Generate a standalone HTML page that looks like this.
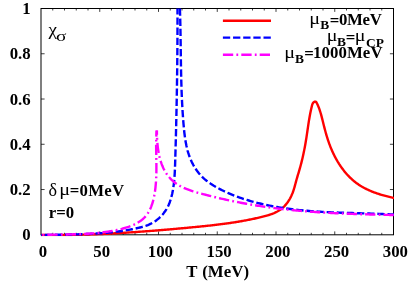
<!DOCTYPE html>
<html><head><meta charset="utf-8"><title>chart</title>
<style>html,body{margin:0;padding:0;background:#fff;overflow:hidden}svg{display:block;will-change:transform}text{font-family:"Liberation Serif",serif;font-weight:bold;fill:#000}.g{font-weight:normal}</style></head><body>
<svg width="409" height="286" viewBox="0 0 409 286">
<rect width="409" height="286" fill="#fff"/>
<g stroke="#000" stroke-width="1" fill="none">
<rect x="41.00" y="8.50" width="352.50" height="226.30"/>
<path d="M52.75,234.80v-2.0 M52.75,8.50v2.0 M64.50,234.80v-2.0 M64.50,8.50v2.0 M76.25,234.80v-2.0 M76.25,8.50v2.0 M88.00,234.80v-2.0 M88.00,8.50v2.0 M99.75,234.80v-3.4 M99.75,8.50v3.4 M111.50,234.80v-2.0 M111.50,8.50v2.0 M123.25,234.80v-2.0 M123.25,8.50v2.0 M135.00,234.80v-2.0 M135.00,8.50v2.0 M146.75,234.80v-2.0 M146.75,8.50v2.0 M158.50,234.80v-3.4 M158.50,8.50v3.4 M170.25,234.80v-2.0 M170.25,8.50v2.0 M182.00,234.80v-2.0 M182.00,8.50v2.0 M193.75,234.80v-2.0 M193.75,8.50v2.0 M205.50,234.80v-2.0 M205.50,8.50v2.0 M217.25,234.80v-3.4 M217.25,8.50v3.4 M229.00,234.80v-2.0 M229.00,8.50v2.0 M240.75,234.80v-2.0 M240.75,8.50v2.0 M252.50,234.80v-2.0 M252.50,8.50v2.0 M264.25,234.80v-2.0 M264.25,8.50v2.0 M276.00,234.80v-3.4 M276.00,8.50v3.4 M287.75,234.80v-2.0 M287.75,8.50v2.0 M299.50,234.80v-2.0 M299.50,8.50v2.0 M311.25,234.80v-2.0 M311.25,8.50v2.0 M323.00,234.80v-2.0 M323.00,8.50v2.0 M334.75,234.80v-3.4 M334.75,8.50v3.4 M346.50,234.80v-2.0 M346.50,8.50v2.0 M358.25,234.80v-2.0 M358.25,8.50v2.0 M370.00,234.80v-2.0 M370.00,8.50v2.0 M381.75,234.80v-2.0 M381.75,8.50v2.0 M41.00,189.54h3.6 M393.50,189.54h-3.6 M41.00,144.28h3.6 M393.50,144.28h-3.6 M41.00,99.02h3.6 M393.50,99.02h-3.6 M41.00,53.76h3.6 M393.50,53.76h-3.6 " stroke-width="0.75"/>
</g>
<defs><clipPath id="c"><rect x="40.50" y="8.00" width="353.50" height="228.30"/></clipPath></defs>
<g clip-path="url(#c)" fill="none" stroke-width="2.4" stroke-linejoin="round">
<path d="M41.00,235.00 L42.00,235.01 L43.00,235.03 L44.00,235.04 L45.00,235.05 L45.99,235.06 L46.99,235.07 L47.99,235.07 L48.99,235.08 L49.99,235.09 L50.99,235.09 L51.99,235.09 L52.99,235.10 L53.98,235.10 L54.98,235.10 L55.98,235.09 L56.98,235.09 L57.98,235.09 L58.98,235.08 L59.98,235.08 L60.98,235.07 L61.98,235.06 L62.98,235.06 L63.97,235.05 L64.97,235.04 L65.97,235.02 L66.97,235.01 L67.97,235.00 L68.97,234.98 L69.97,234.97 L70.97,234.95 L71.97,234.93 L72.97,234.91 L73.97,234.89 L74.96,234.87 L75.96,234.85 L76.96,234.83 L77.96,234.81 L78.96,234.78 L79.96,234.76 L80.96,234.73 L81.96,234.70 L82.96,234.67 L83.96,234.65 L84.95,234.62 L85.95,234.58 L86.95,234.55 L87.95,234.52 L88.95,234.49 L89.95,234.45 L90.95,234.42 L91.95,234.38 L92.95,234.34 L93.95,234.31 L94.94,234.27 L95.94,234.23 L96.94,234.19 L97.94,234.15 L98.94,234.10 L99.94,234.06 L100.94,234.02 L101.94,233.97 L102.93,233.93 L103.93,233.88 L104.93,233.84 L105.93,233.79 L106.93,233.74 L107.93,233.69 L108.93,233.64 L109.92,233.59 L110.92,233.54 L111.92,233.49 L112.92,233.43 L113.92,233.38 L114.92,233.32 L115.92,233.27 L116.91,233.21 L117.91,233.16 L118.91,233.10 L119.91,233.04 L120.91,232.98 L121.90,232.92 L122.90,232.86 L123.90,232.80 L124.90,232.74 L125.90,232.68 L126.89,232.62 L127.89,232.55 L128.89,232.49 L129.89,232.42 L130.89,232.36 L131.88,232.29 L132.88,232.22 L133.88,232.16 L134.88,232.09 L135.87,232.02 L136.87,231.95 L137.87,231.88 L138.87,231.81 L139.86,231.74 L140.86,231.67 L141.86,231.60 L142.86,231.52 L143.85,231.45 L144.85,231.38 L145.85,231.30 L146.84,231.23 L147.84,231.15 L148.84,231.08 L149.83,231.00 L150.83,230.92 L151.83,230.84 L152.82,230.77 L153.82,230.69 L154.82,230.61 L155.81,230.53 L156.81,230.45 L157.81,230.37 L158.80,230.29 L159.80,230.20 L160.79,230.12 L161.79,230.04 L162.79,229.96 L163.78,229.87 L164.78,229.79 L165.77,229.70 L166.77,229.62 L167.77,229.53 L168.76,229.45 L169.76,229.36 L170.75,229.28 L171.75,229.19 L172.74,229.10 L173.74,229.01 L174.73,228.92 L175.73,228.84 L176.72,228.75 L177.72,228.66 L178.71,228.57 L179.71,228.48 L180.70,228.39 L181.70,228.30 L182.69,228.21 L183.68,228.11 L184.68,228.02 L185.67,227.93 L186.67,227.84 L187.66,227.74 L188.66,227.65 L189.65,227.56 L190.64,227.46 L191.64,227.37 L192.63,227.28 L193.62,227.18 L194.62,227.09 L195.61,226.99 L196.60,226.89 L197.60,226.80 L198.59,226.70 L199.58,226.60 L200.57,226.50 L201.57,226.40 L202.56,226.30 L203.55,226.20 L204.54,226.09 L205.54,225.99 L206.53,225.89 L207.52,225.78 L208.51,225.67 L209.50,225.57 L210.50,225.46 L211.49,225.35 L212.48,225.23 L213.47,225.12 L214.46,225.01 L215.45,224.89 L216.44,224.77 L217.43,224.65 L218.42,224.53 L219.41,224.41 L220.40,224.28 L221.39,224.16 L222.38,224.03 L223.37,223.90 L224.36,223.77 L225.35,223.64 L226.34,223.50 L227.33,223.36 L228.32,223.22 L229.31,223.08 L230.29,222.94 L231.28,222.79 L232.27,222.64 L233.26,222.49 L234.25,222.34 L235.23,222.19 L236.22,222.03 L237.21,221.87 L238.19,221.71 L239.18,221.54 L240.17,221.37 L241.15,221.20 L242.14,221.03 L243.13,220.85 L244.11,220.67 L245.10,220.49 L246.08,220.31 L247.07,220.12 L248.05,219.93 L249.04,219.73 L250.02,219.54 L251.01,219.34 L251.99,219.13 L252.97,218.93 L253.96,218.72 L254.94,218.50 L255.92,218.29 L256.91,218.07 L257.89,217.84 L258.87,217.62 L259.85,217.39 L260.84,217.15 L261.82,216.91 L262.80,216.67 L263.78,216.42 L264.75,216.17 L265.73,215.91 L266.70,215.64 L267.67,215.36 L268.63,215.07 L269.58,214.76 L270.53,214.45 L271.46,214.12 L272.39,213.77 L273.31,213.41 L274.22,213.03 L275.12,212.62 L276.00,212.20 L276.88,211.76 L277.73,211.30 L278.58,210.81 L279.40,210.29 L280.21,209.75 L281.01,209.19 L281.78,208.59 L282.54,207.97 L283.27,207.31 L283.99,206.63 L284.69,205.91 L285.36,205.17 L286.02,204.41 L286.65,203.62 L287.26,202.81 L287.85,201.98 L288.42,201.13 L288.97,200.27 L289.50,199.39 L290.01,198.49 L290.49,197.59 L290.95,196.68 L291.40,195.75 L291.81,194.83 L292.21,193.89 L292.59,192.96 L292.94,192.02 L293.27,191.09 L293.59,190.15 L293.89,189.21 L294.18,188.26 L294.45,187.32 L294.72,186.38 L294.98,185.43 L295.23,184.49 L295.49,183.54 L295.74,182.59 L295.99,181.64 L296.25,180.69 L296.51,179.73 L296.78,178.78 L297.06,177.82 L297.34,176.87 L297.62,175.91 L297.91,174.95 L298.20,173.99 L298.49,173.03 L298.77,172.06 L299.06,171.10 L299.35,170.13 L299.63,169.17 L299.91,168.20 L300.18,167.23 L300.45,166.26 L300.71,165.28 L300.97,164.31 L301.22,163.34 L301.47,162.36 L301.71,161.39 L301.95,160.41 L302.19,159.43 L302.42,158.45 L302.65,157.47 L302.87,156.49 L303.09,155.51 L303.31,154.53 L303.52,153.55 L303.72,152.57 L303.93,151.59 L304.12,150.61 L304.32,149.63 L304.51,148.64 L304.70,147.66 L304.88,146.68 L305.06,145.70 L305.24,144.71 L305.41,143.73 L305.58,142.75 L305.75,141.77 L305.91,140.79 L306.07,139.81 L306.23,138.83 L306.39,137.85 L306.54,136.87 L306.68,135.89 L306.83,134.91 L306.98,133.93 L307.12,132.95 L307.26,131.97 L307.40,130.99 L307.55,130.01 L307.69,129.03 L307.83,128.05 L307.97,127.07 L308.12,126.09 L308.27,125.11 L308.41,124.13 L308.56,123.14 L308.72,122.16 L308.87,121.17 L309.03,120.18 L309.20,119.19 L309.37,118.20 L309.54,117.21 L309.72,116.22 L309.90,115.22 L310.09,114.22 L310.28,113.22 L310.48,112.22 L310.69,111.22 L310.90,110.21 L311.13,109.20 L311.36,108.19 L311.60,107.18 L311.84,106.16 L312.10,105.14 L312.41,104.16 L312.84,103.25 L313.43,102.46 L314.19,101.86 L315.00,101.57 L315.72,101.70 L316.30,102.23 L316.78,103.02 L317.22,103.89 L317.64,104.78 L318.04,105.68 L318.42,106.60 L318.78,107.52 L319.13,108.45 L319.47,109.39 L319.79,110.34 L320.10,111.29 L320.40,112.25 L320.69,113.22 L320.97,114.19 L321.24,115.16 L321.50,116.14 L321.76,117.12 L322.01,118.10 L322.26,119.09 L322.50,120.07 L322.74,121.06 L322.99,122.04 L323.23,123.02 L323.47,124.00 L323.72,124.97 L323.96,125.94 L324.21,126.92 L324.46,127.88 L324.71,128.85 L324.97,129.81 L325.23,130.78 L325.49,131.73 L325.75,132.69 L326.02,133.65 L326.30,134.60 L326.58,135.55 L326.86,136.50 L327.15,137.45 L327.45,138.39 L327.75,139.33 L328.06,140.27 L328.37,141.21 L328.70,142.15 L329.03,143.08 L329.36,144.02 L329.71,144.95 L330.06,145.88 L330.42,146.81 L330.79,147.73 L331.17,148.66 L331.56,149.58 L331.96,150.50 L332.37,151.42 L332.78,152.33 L333.21,153.24 L333.64,154.15 L334.09,155.05 L334.54,155.95 L335.00,156.85 L335.47,157.74 L335.95,158.62 L336.44,159.51 L336.94,160.38 L337.45,161.25 L337.96,162.12 L338.49,162.97 L339.02,163.83 L339.57,164.67 L340.12,165.51 L340.69,166.34 L341.26,167.17 L341.84,167.98 L342.44,168.79 L343.04,169.59 L343.65,170.39 L344.27,171.17 L344.90,171.95 L345.54,172.71 L346.19,173.47 L346.85,174.22 L347.52,174.95 L348.20,175.68 L348.89,176.40 L349.58,177.10 L350.29,177.80 L351.01,178.48 L351.74,179.16 L352.48,179.82 L353.22,180.47 L353.98,181.10 L354.75,181.73 L355.53,182.34 L356.31,182.94 L357.11,183.53 L357.92,184.10 L358.74,184.66 L359.56,185.20 L360.40,185.74 L361.25,186.25 L362.10,186.76 L362.96,187.25 L363.84,187.73 L364.72,188.20 L365.60,188.66 L366.50,189.11 L367.40,189.54 L368.31,189.96 L369.22,190.37 L370.14,190.77 L371.07,191.17 L372.00,191.55 L372.94,191.92 L373.88,192.28 L374.83,192.63 L375.78,192.97 L376.73,193.30 L377.69,193.63 L378.65,193.94 L379.62,194.25 L380.58,194.55 L381.55,194.84 L382.52,195.12 L383.50,195.40 L384.47,195.67 L385.45,195.93 L386.42,196.18 L387.40,196.43 L388.38,196.68 L389.35,196.91 L390.33,197.14 L391.31,197.37 L392.28,197.59 L393.25,197.81 L394.23,198.02 L395.19,198.22 L396.16,198.43 L397.13,198.63 L398.09,198.82 L399.04,199.01 L400.00,199.20" stroke="#ff0000"/>
<path d="M177.50,8.50 L177.50,10.22 L177.50,11.94 L177.51,13.66 L177.51,15.37 L177.51,17.08 L177.51,18.79 L177.51,20.50 L177.50,22.20 L177.50,23.91 L177.50,25.61 L177.49,27.30 L177.49,29.00 L177.48,30.69 L177.48,32.38 L177.47,34.07 L177.47,35.76 L177.46,37.45 L177.45,39.13 L177.44,40.82 L177.43,42.50 L177.42,44.18 L177.41,45.85 L177.40,47.53 L177.39,49.21 L177.37,50.88 L177.36,52.55 L177.34,54.23 L177.33,55.90 L177.31,57.57 L177.30,59.24 L177.28,60.90 L177.26,62.57 L177.25,64.24 L177.23,65.90 L177.21,67.57 L177.19,69.23 L177.17,70.90 L177.15,72.56 L177.13,74.22 L177.10,75.88 L177.08,77.55 L177.06,79.21 L177.03,80.87 L177.01,82.53 L176.98,84.20 L176.96,85.86 L176.93,87.52 L176.90,89.18 L176.87,90.84 L176.85,92.51 L176.82,94.17 L176.79,95.83 L176.76,97.50 L176.73,99.16 L176.70,100.83 L176.66,102.49 L176.63,104.16 L176.60,105.83 L176.56,107.50 L176.53,109.17 L176.49,110.84 L176.46,112.51 L176.42,114.18 L176.39,115.85 L176.35,117.53 L176.31,119.20 L176.27,120.88 L176.23,122.56 L176.20,124.24 L176.16,125.92 L176.12,127.61 L176.07,129.29 L176.03,130.98 L175.99,132.67 L175.95,134.36 L175.90,136.05 L175.86,137.75 L175.82,139.44 L175.77,141.14 L175.73,142.84 L175.68,144.55 L175.63,146.25 L175.59,147.96 L175.54,149.67 L175.49,151.38 L175.44,153.10 L175.39,154.82 L175.34,156.54 L175.29,158.26 L175.24,159.99 L175.19,161.71 L175.14,163.45 L175.08,165.18 L175.02,166.91 L174.95,168.64 L174.87,170.37 L174.79,172.10 L174.69,173.82 L174.58,175.54 L174.46,177.26 L174.32,178.97 L174.17,180.67 L173.99,182.36 L173.80,184.05 L173.59,185.72 L173.35,187.38 L173.09,189.04 L172.80,190.68 L172.49,192.30 L172.15,193.92 L171.77,195.51 L171.37,197.09 L170.93,198.66 L170.45,200.20 L169.93,201.73 L169.36,203.24 L168.74,204.73 L168.06,206.19 L167.32,207.63 L166.51,209.05 L165.63,210.45 L164.69,211.81 L163.69,213.14 L162.63,214.43 L161.51,215.68 L160.34,216.88 L159.12,218.04 L157.85,219.14 L156.54,220.18 L155.19,221.16 L153.79,222.07 L152.37,222.91 L150.90,223.69 L149.41,224.39 L147.89,225.03 L146.35,225.61 L144.78,226.14 L143.19,226.63 L141.59,227.08 L139.98,227.50 L138.35,227.89 L136.72,228.26 L135.08,228.61 L133.44,228.95 L131.79,229.28 L130.14,229.59 L128.48,229.89 L126.82,230.18 L125.16,230.45 L123.50,230.72 L121.83,230.97 L120.16,231.21 L118.48,231.44 L116.80,231.66 L115.12,231.86 L113.44,232.06 L111.76,232.25 L110.07,232.42 L108.38,232.59 L106.69,232.75 L105.00,232.90 L103.31,233.04 L101.61,233.18 L99.92,233.30 L98.22,233.42 L96.52,233.53 L94.82,233.63 L93.12,233.73 L91.42,233.82 L89.72,233.91 L88.02,233.98 L86.32,234.06 L84.62,234.13 L82.92,234.19 L81.22,234.25 L79.53,234.30 L77.83,234.35 L76.13,234.39 L74.44,234.44 L72.74,234.48 L71.05,234.51 L69.36,234.55 L67.67,234.58 L65.98,234.61 L64.30,234.63 L62.61,234.66 L60.93,234.68 L59.25,234.71 L57.58,234.73 L55.90,234.75 L54.23,234.78 L52.57,234.80 L50.90,234.83 L49.24,234.85 L47.59,234.88 L45.93,234.90 L44.29,234.93 L42.64,234.97 L41.00,235.00" stroke="#0000ff" stroke-dasharray="7.3 2.85" stroke-dashoffset="1.2"/>
<path d="M179.90,8.50 L179.96,10.44 L180.03,12.38 L180.08,14.32 L180.14,16.25 L180.19,18.18 L180.24,20.10 L180.28,22.02 L180.33,23.93 L180.37,25.85 L180.40,27.76 L180.44,29.66 L180.47,31.57 L180.51,33.47 L180.54,35.37 L180.57,37.26 L180.59,39.16 L180.62,41.05 L180.65,42.94 L180.67,44.83 L180.70,46.71 L180.72,48.60 L180.75,50.48 L180.77,52.36 L180.80,54.24 L180.82,56.12 L180.85,58.00 L180.87,59.88 L180.90,61.75 L180.93,63.63 L180.96,65.51 L180.99,67.38 L181.03,69.26 L181.06,71.13 L181.10,73.01 L181.14,74.89 L181.18,76.76 L181.22,78.64 L181.27,80.52 L181.32,82.40 L181.38,84.28 L181.43,86.16 L181.49,88.05 L181.56,89.93 L181.62,91.82 L181.70,93.71 L181.77,95.60 L181.85,97.49 L181.94,99.38 L182.03,101.28 L182.12,103.18 L182.22,105.08 L182.33,106.99 L182.44,108.89 L182.56,110.81 L182.68,112.72 L182.81,114.64 L182.94,116.56 L183.08,118.48 L183.23,120.41 L183.38,122.34 L183.55,124.28 L183.72,126.22 L183.89,128.16 L184.09,130.10 L184.29,132.05 L184.52,133.99 L184.76,135.92 L185.03,137.85 L185.32,139.78 L185.64,141.69 L185.99,143.59 L186.37,145.49 L186.79,147.36 L187.24,149.23 L187.73,151.07 L188.27,152.90 L188.85,154.71 L189.48,156.50 L190.16,158.26 L190.89,160.00 L191.66,161.71 L192.49,163.39 L193.37,165.04 L194.30,166.66 L195.28,168.24 L196.30,169.78 L197.38,171.28 L198.51,172.74 L199.68,174.15 L200.91,175.51 L202.18,176.83 L203.50,178.10 L204.87,179.31 L206.28,180.48 L207.73,181.61 L209.21,182.69 L210.73,183.74 L212.29,184.75 L213.87,185.73 L215.47,186.67 L217.10,187.59 L218.75,188.48 L220.41,189.35 L222.09,190.20 L223.79,191.03 L225.50,191.84 L227.22,192.62 L228.96,193.39 L230.71,194.13 L232.47,194.85 L234.24,195.56 L236.02,196.24 L237.82,196.91 L239.62,197.56 L241.44,198.19 L243.26,198.80 L245.10,199.39 L246.94,199.96 L248.79,200.52 L250.64,201.06 L252.50,201.59 L254.37,202.09 L256.24,202.58 L258.12,203.06 L260.00,203.52 L261.89,203.96 L263.78,204.39 L265.67,204.81 L267.56,205.21 L269.46,205.59 L271.35,205.97 L273.25,206.32 L275.15,206.67 L277.05,207.00 L278.94,207.32 L280.84,207.63 L282.73,207.93 L284.62,208.21 L286.51,208.48 L288.40,208.74 L290.28,208.99 L292.17,209.23 L294.05,209.46 L295.93,209.68 L297.81,209.89 L299.69,210.09 L301.57,210.28 L303.45,210.46 L305.32,210.64 L307.20,210.80 L309.07,210.96 L310.95,211.11 L312.82,211.25 L314.69,211.39 L316.57,211.52 L318.44,211.64 L320.31,211.75 L322.19,211.86 L324.06,211.97 L325.93,212.07 L327.80,212.16 L329.68,212.25 L331.55,212.34 L333.42,212.42 L335.30,212.49 L337.17,212.57 L339.05,212.64 L340.93,212.70 L342.80,212.77 L344.68,212.83 L346.56,212.89 L348.44,212.95 L350.33,213.00 L352.21,213.06 L354.09,213.11 L355.98,213.17 L357.87,213.22 L359.76,213.27 L361.65,213.33 L363.54,213.38 L365.44,213.44 L367.34,213.49 L369.24,213.55 L371.14,213.61 L373.04,213.67 L374.95,213.73 L376.86,213.80 L378.77,213.87 L380.69,213.94 L382.60,214.02 L384.52,214.09 L386.45,214.18 L388.37,214.27 L390.30,214.36 L392.24,214.46 L394.17,214.56 L396.11,214.67 L398.05,214.78 L400.00,214.90" stroke="#0000ff" stroke-dasharray="7.3 2.85"/>
<path d="M156.60,130.50 L156.53,131.50 L156.47,132.51 L156.42,133.51 L156.37,134.51 L156.32,135.50 L156.28,136.50 L156.25,137.49 L156.22,138.48 L156.20,139.47 L156.18,140.46 L156.17,141.45 L156.16,142.43 L156.15,143.42 L156.14,144.40 L156.14,145.38 L156.15,146.36 L156.15,147.34 L156.16,148.32 L156.17,149.30 L156.18,150.28 L156.19,151.25 L156.21,152.23 L156.22,153.21 L156.24,154.18 L156.25,155.16 L156.27,156.13 L156.29,157.11 L156.31,158.08 L156.32,159.06 L156.34,160.03 L156.35,161.01 L156.37,161.99 L156.38,162.96 L156.39,163.94 L156.40,164.92 L156.40,165.90 L156.40,166.87 L156.40,167.85 L156.40,168.84 L156.40,169.82 L156.39,170.80 L156.37,171.78 L156.36,172.77 L156.33,173.76 L156.31,174.74 L156.28,175.73 L156.24,176.72 L156.20,177.72 L156.15,178.71 L156.10,179.71 L156.04,180.71 L155.97,181.71 L155.90,182.71 L155.82,183.71 L155.73,184.72 L155.64,185.73 L155.54,186.74 L155.43,187.76 L155.31,188.77 L155.18,189.79 L155.04,190.81 L154.90,191.83 L154.74,192.85 L154.58,193.87 L154.40,194.89 L154.21,195.90 L154.01,196.91 L153.79,197.91 L153.56,198.91 L153.32,199.90 L153.07,200.89 L152.80,201.86 L152.51,202.83 L152.21,203.79 L151.89,204.74 L151.56,205.67 L151.21,206.60 L150.84,207.51 L150.45,208.40 L150.05,209.28 L149.62,210.15 L149.18,211.00 L148.71,211.83 L148.23,212.64 L147.72,213.43 L147.19,214.21 L146.64,214.96 L146.07,215.69 L145.47,216.40 L144.85,217.08 L144.21,217.75 L143.55,218.39 L142.86,219.01 L142.16,219.61 L141.43,220.19 L140.69,220.75 L139.93,221.29 L139.15,221.81 L138.35,222.31 L137.54,222.80 L136.71,223.26 L135.87,223.72 L135.02,224.15 L134.15,224.57 L133.27,224.97 L132.37,225.36 L131.47,225.73 L130.55,226.09 L129.63,226.44 L128.70,226.77 L127.75,227.09 L126.81,227.40 L125.85,227.70 L124.89,227.99 L123.92,228.26 L122.95,228.53 L121.97,228.79 L120.99,229.04 L120.01,229.27 L119.03,229.51 L118.04,229.73 L117.06,229.95 L116.07,230.16 L115.09,230.36 L114.10,230.56 L113.11,230.74 L112.12,230.93 L111.13,231.10 L110.15,231.27 L109.16,231.44 L108.17,231.60 L107.18,231.75 L106.18,231.90 L105.19,232.04 L104.20,232.17 L103.21,232.30 L102.22,232.43 L101.23,232.55 L100.23,232.66 L99.24,232.77 L98.25,232.87 L97.25,232.97 L96.26,233.07 L95.27,233.16 L94.27,233.25 L93.28,233.33 L92.29,233.41 L91.29,233.48 L90.30,233.56 L89.30,233.62 L88.31,233.69 L87.32,233.75 L86.32,233.80 L85.33,233.86 L84.33,233.91 L83.34,233.96 L82.35,234.00 L81.35,234.04 L80.36,234.08 L79.37,234.12 L78.37,234.16 L77.38,234.19 L76.39,234.22 L75.40,234.25 L74.41,234.28 L73.41,234.30 L72.42,234.33 L71.43,234.35 L70.44,234.37 L69.45,234.39 L68.46,234.41 L67.47,234.43 L66.48,234.44 L65.49,234.46 L64.51,234.48 L63.52,234.49 L62.53,234.51 L61.55,234.52 L60.56,234.54 L59.58,234.55 L58.59,234.56 L57.61,234.58 L56.62,234.60 L55.64,234.61 L54.66,234.63 L53.68,234.65 L52.70,234.66 L51.72,234.68 L50.74,234.70 L49.76,234.73 L48.78,234.75 L47.81,234.77 L46.83,234.80 L45.86,234.83 L44.89,234.86 L43.91,234.89 L42.94,234.92 L41.97,234.96 L41.00,235.00" stroke="#ff00ff" stroke-dasharray="10.3 3.1 1.8 3.2" stroke-dashoffset="4.2"/>
<path d="M156.90,130.50 L156.90,131.82 L156.92,133.17 L156.94,134.55 L156.98,135.94 L157.03,137.35 L157.09,138.78 L157.17,140.22 L157.27,141.68 L157.39,143.14 L157.52,144.61 L157.68,146.09 L157.86,147.58 L158.06,149.07 L158.28,150.55 L158.53,152.04 L158.80,153.52 L159.10,155.00 L159.42,156.46 L159.78,157.92 L160.16,159.37 L160.58,160.80 L161.03,162.22 L161.51,163.62 L162.02,164.99 L162.57,166.35 L163.15,167.69 L163.78,168.99 L164.44,170.27 L165.14,171.52 L165.88,172.74 L166.66,173.93 L167.48,175.08 L168.34,176.19 L169.24,177.27 L170.18,178.31 L171.15,179.32 L172.16,180.29 L173.20,181.22 L174.26,182.11 L175.36,182.97 L176.49,183.78 L177.64,184.56 L178.82,185.30 L180.03,186.00 L181.25,186.66 L182.50,187.28 L183.76,187.88 L185.05,188.44 L186.35,188.98 L187.67,189.49 L189.00,189.98 L190.34,190.45 L191.69,190.90 L193.06,191.33 L194.43,191.74 L195.81,192.15 L197.19,192.54 L198.58,192.93 L199.97,193.31 L201.36,193.68 L202.76,194.05 L204.15,194.42 L205.55,194.78 L206.94,195.15 L208.34,195.50 L209.74,195.86 L211.14,196.21 L212.54,196.55 L213.94,196.90 L215.34,197.23 L216.75,197.57 L218.15,197.90 L219.55,198.23 L220.96,198.55 L222.37,198.87 L223.77,199.19 L225.18,199.51 L226.59,199.82 L228.00,200.12 L229.41,200.42 L230.83,200.72 L232.24,201.02 L233.65,201.31 L235.07,201.60 L236.48,201.88 L237.90,202.16 L239.31,202.44 L240.73,202.71 L242.15,202.98 L243.57,203.25 L244.99,203.51 L246.41,203.77 L247.83,204.02 L249.25,204.27 L250.67,204.52 L252.10,204.76 L253.52,205.00 L254.94,205.24 L256.37,205.47 L257.79,205.70 L259.22,205.93 L260.65,206.15 L262.07,206.37 L263.50,206.58 L264.93,206.79 L266.36,207.00 L267.79,207.20 L269.22,207.40 L270.65,207.59 L272.08,207.79 L273.51,207.97 L274.94,208.16 L276.37,208.34 L277.81,208.52 L279.24,208.69 L280.67,208.86 L282.11,209.03 L283.54,209.19 L284.98,209.35 L286.41,209.51 L287.85,209.66 L289.28,209.81 L290.72,209.96 L292.15,210.10 L293.59,210.24 L295.03,210.38 L296.47,210.51 L297.90,210.65 L299.34,210.77 L300.78,210.90 L302.22,211.02 L303.66,211.14 L305.10,211.26 L306.54,211.38 L307.97,211.49 L309.41,211.60 L310.85,211.70 L312.29,211.81 L313.73,211.91 L315.17,212.01 L316.61,212.11 L318.06,212.20 L319.50,212.30 L320.94,212.39 L322.38,212.48 L323.82,212.56 L325.26,212.65 L326.70,212.73 L328.14,212.81 L329.58,212.88 L331.02,212.96 L332.46,213.03 L333.91,213.11 L335.35,213.18 L336.79,213.25 L338.23,213.31 L339.67,213.38 L341.11,213.44 L342.55,213.50 L343.99,213.56 L345.43,213.62 L346.87,213.68 L348.31,213.74 L349.76,213.79 L351.20,213.85 L352.64,213.90 L354.08,213.95 L355.52,214.00 L356.95,214.05 L358.39,214.09 L359.83,214.14 L361.27,214.19 L362.71,214.23 L364.15,214.28 L365.59,214.32 L367.03,214.36 L368.46,214.40 L369.90,214.44 L371.34,214.48 L372.77,214.52 L374.21,214.56 L375.65,214.60 L377.08,214.63 L378.52,214.67 L379.95,214.71 L381.39,214.74 L382.82,214.78 L384.26,214.82 L385.69,214.85 L387.12,214.89 L388.56,214.92 L389.99,214.96 L391.42,214.99 L392.85,215.03 L394.28,215.06 L395.71,215.09 L397.14,215.13 L398.57,215.16 L400.00,215.20" stroke="#ff00ff" stroke-dasharray="10.3 3.2 1.8 3.1" stroke-dashoffset="6.1"/>
</g>
<g fill="none" stroke-width="2.4">
<path d="M222.9,20.7H271" stroke="#ff0000"/>
<path d="M222.9,37.6H271" stroke="#0000ff" stroke-dasharray="7.3 2.85"/>
<path d="M222.9,54.7H271" stroke="#ff00ff" stroke-dasharray="10.3 3.2 1.8 3.1"/>
</g>
<text x="30.7" y="240.30" font-size="16.8" text-anchor="end">0</text>
<text x="30.7" y="195.04" font-size="16.8" text-anchor="end">0.2</text>
<text x="30.7" y="149.78" font-size="16.8" text-anchor="end">0.4</text>
<text x="30.7" y="104.52" font-size="16.8" text-anchor="end">0.6</text>
<text x="30.7" y="59.26" font-size="16.8" text-anchor="end">0.8</text>
<text x="30.7" y="14.00" font-size="16.8" text-anchor="end">1</text>
<text x="42.90" y="257.2" font-size="16.8" text-anchor="middle">0</text>
<text x="101.65" y="257.2" font-size="16.8" text-anchor="middle">50</text>
<text x="160.40" y="257.2" font-size="16.8" text-anchor="middle">100</text>
<text x="219.15" y="257.2" font-size="16.8" text-anchor="middle">150</text>
<text x="277.90" y="257.2" font-size="16.8" text-anchor="middle">200</text>
<text x="336.65" y="257.2" font-size="16.8" text-anchor="middle">250</text>
<text x="395.40" y="257.2" font-size="16.8" text-anchor="middle">300</text>
<text x="217.8" y="276.5" font-size="16.8" text-anchor="middle" word-spacing="0.5" letter-spacing="0.1">T (MeV)</text>
<text transform="translate(309.35,24.40) scale(1.200,1)" font-size="16.8" class="g">μ</text>
<text x="320.20" y="29.40" font-size="13.4">B</text>
<text x="329.80" y="26.10" font-size="16.8">=</text>
<text x="338.95" y="25.20" font-size="16.8" letter-spacing="-0.3">0MeV</text>
<text transform="translate(326.65,40.50) scale(1.190,1)" font-size="16.8" class="g">μ</text>
<text x="337.10" y="46.10" font-size="13.4">B</text>
<text x="345.80" y="42.60" font-size="16.8">=</text>
<text transform="translate(354.70,40.50) scale(1.190,1)" font-size="16.8" class="g">μ</text>
<text x="366.00" y="47.10" font-size="13.4">CP</text>
<text transform="translate(284.20,57.70) scale(1.200,1)" font-size="16.8" class="g">μ</text>
<text x="294.90" y="62.70" font-size="13.4">B</text>
<text x="304.20" y="59.00" font-size="16.8">=</text>
<text x="312.95" y="58.10" font-size="16.8" letter-spacing="0.1">1000MeV</text>
<text transform="translate(48.4,34.9) scale(1.14,1)" font-size="16.8" class="g">χ</text>
<text transform="translate(56.0,40.5) scale(1.25,1)" font-size="15.5" class="g">σ</text>
<text transform="translate(48.6,195.7) scale(1.08,1.12)" font-size="16.8" class="g">δ</text>
<text transform="translate(59.20,195.00) scale(1.200,1)" font-size="16.8" class="g">μ</text>
<text x="69.80" y="195.70" font-size="16.8" letter-spacing="0.25">=0MeV</text>
<text x="48.8" y="217.9" font-size="16.8">r=0</text>
</svg>
</body></html>
